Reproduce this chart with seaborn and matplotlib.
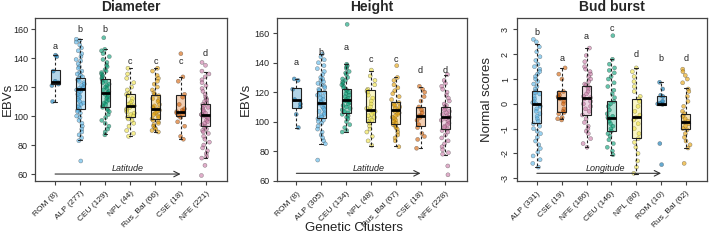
import numpy as np
import pandas as pd
import matplotlib
matplotlib.use('Agg')
import matplotlib.pyplot as plt
import seaborn as sns

sns.set_style('ticks')
plt.rcParams['font.family'] = ['Liberation Sans', 'DejaVu Sans']
np.random.seed(3)

# 1. Colours per genetic cluster
colors = {
    'ROM': '#0072B2', 'ALP': '#56B4E9', 'CEU': '#009E73', 'NPL': '#F0E442',
    'Rus_Bal': '#E69F00', 'CSE': '#D55E00', 'NFE': '#CC79A7',
}

# 2. Data: Diameter
diam_order = ['ROM', 'ALP', 'CEU', 'NPL', 'Rus_Bal', 'CSE', 'NFE']
diam_labels = ['ROM (8)', 'ALP (277)', 'CEU (129)', 'NPL (44)', 'Rus_Bal (66)', 'CSE (18)', 'NFE (221)']
diam_letters = ['a', 'b', 'b', 'c', 'c', 'c', 'd']
diam_letter_y = [148, 160, 160, 137.5, 137.5, 137.5, 143]
diam_q3 = [131.7, 126.4, 125.3, 115, 114.5, 114.5, 108]
diam_med = [123.2, 118.4, 115.6, 107.1, 104.8, 103, 100.4]
diam_q1 = [122, 105, 106.2, 99, 97.7, 100, 93.3]
diam_hi = [142, 153, 146, 133, 133, 127, 130.6]
diam_lo = [109.5, 83.2, 87.3, 86, 89.2, 84, 71]
diam_pts = {
    'ROM': [142, 141, 131, 124, 123, 122, 121, 110],
    'ALP': [153, 152, 151, 149, 147, 145, 143, 141, 139, 138, 136, 134, 133, 131, 130, 129, 128, 127,
            126, 125, 124, 123, 122, 121, 120, 119, 119, 118, 118, 117, 116, 115, 114, 113, 112, 111,
            110, 109, 108, 107, 106, 105, 104, 103, 102, 100, 99, 97, 95, 93, 91, 89, 87, 85, 83, 69],
    'CEU': [154, 146, 145, 143, 141, 139, 137, 135, 134, 132, 131, 130, 129, 128, 127, 126, 125, 124,
            123, 122, 121, 120, 119, 118, 117, 116, 116, 115, 114, 113, 112, 111, 110, 109, 108, 107,
            106, 105, 104, 103, 101, 99, 97, 95, 93, 91, 89, 87],
    'NPL': [133, 129, 126, 123, 120, 118, 116, 115, 114, 112, 110, 109, 108, 107, 107, 106, 105, 104,
            103, 102, 101, 100, 99, 98, 97, 95, 93, 90, 88, 86],
    'Rus_Bal': [133, 131, 128, 126, 124, 122, 120, 118, 116, 115, 114, 112, 111, 110, 108, 107, 106, 105,
                105, 104, 103, 102, 101, 100, 99, 98, 97, 96, 95, 94, 93, 92, 91, 90, 89],
    'CSE': [143, 127, 124, 115, 113, 108, 105, 104, 103, 103, 102, 101, 100, 99, 96, 93, 86, 84],
    'NFE': [137, 135, 131, 129, 127, 125, 123, 121, 119, 117, 115, 113, 112, 111, 110, 109, 108, 107,
            106, 105, 104, 103, 102, 101, 101, 100, 100, 99, 98, 97, 96, 95, 94, 93, 92, 91, 90, 89,
            88, 86, 84, 82, 80, 78, 76, 74, 72, 71, 66, 59],
}

# 3. Data: Height
height_order = ['ROM', 'ALP', 'CEU', 'NPL', 'Rus_Bal', 'CSE', 'NFE']
height_labels = ['ROM (8)', 'ALP (305)', 'CEU (134)', 'NPL (48)', 'Rus_Bal (67)', 'CSE (18)', 'NFE (228)']
height_letters = ['a', 'b', 'a', 'c', 'c', 'd', 'd']
height_letter_y = [140, 147, 150, 142, 142, 135, 135]
height_q3 = [122.7, 120.9, 122, 121.6, 113.3, 110, 110.3]
height_med = [114.8, 113, 114.4, 107.6, 107.6, 104.2, 102.9]
height_q1 = [109.6, 102.5, 105.9, 99.5, 98.4, 96.8, 95]
height_hi = [129.2, 146, 139, 134.4, 130, 123.8, 132]
height_lo = [95.7, 85.1, 93, 83.8, 83.3, 82.2, 77.7]
height_pts = {
    'ROM': [129, 128, 122, 115, 112, 110, 105, 96],
    'ALP': [146, 144, 142, 140, 138, 136, 134, 132, 130, 129, 128, 127, 126, 125, 124, 123, 122, 121,
            120, 119, 118, 117, 116, 115, 114, 113, 113, 112, 111, 110, 109, 108, 107, 106, 105, 104,
            103, 102, 101, 100, 99, 97, 95, 93, 91, 89, 87, 85, 74],
    'CEU': [166, 139, 138, 137, 136, 134, 133, 132, 130, 129, 128, 127, 126, 125, 124, 123, 122, 121,
            120, 119, 118, 117, 116, 115, 114, 114, 113, 112, 111, 110, 109, 108, 107, 106, 105, 104,
            103, 102, 100, 98, 96, 94, 93],
    'NPL': [135, 131, 128, 125, 122, 121, 120, 118, 116, 114, 112, 110, 109, 108, 107, 106, 105, 104,
            103, 102, 101, 100, 99, 97, 95, 93, 90, 87, 84],
    'Rus_Bal': [138, 130, 128, 125, 123, 121, 119, 117, 115, 113, 112, 111, 110, 109, 108, 107, 106, 105,
                104, 103, 102, 101, 100, 99, 98, 97, 96, 95, 93, 91, 89, 87, 83],
    'CSE': [124, 122, 120, 117, 114, 110, 108, 106, 104, 104, 103, 101, 98, 96, 92, 90, 88, 82],
    'NFE': [132, 128, 126, 124, 122, 120, 118, 116, 114, 112, 111, 110, 109, 108, 107, 106, 105, 104,
            103, 103, 102, 101, 100, 99, 98, 97, 96, 95, 94, 93, 91, 89, 87, 85, 83, 81, 79, 78, 70, 64],
}

# 4. Data: Bud burst
bud_order = ['ALP', 'CSE', 'NFE', 'CEU', 'NPL', 'ROM', 'Rus_Bal']
bud_labels = ['ALP (331)', 'CSE (19)', 'NFE (186)', 'CEU (146)', 'NPL (80)', 'ROM (10)', 'Rus_Bal (62)']
bud_letters = ['b', 'a', 'a', 'c', 'd', 'b', 'd']
bud_letter_y = [2.88, 1.81, 2.72, 3.05, 2.0, 1.81, 1.81]
bud_q3 = [0.5, 0.51, 0.71, 0.11, 0.21, 0.31, -0.4]
bud_med = [0.0, 0.25, 0.25, -0.56, -0.54, 0.0, -0.74]
bud_q1 = [-0.79, -0.32, -0.46, -1.1, -1.39, -0.04, -1.03]
bud_hi = [2.42, 1.45, 2.25, 1.81, 1.45, 0.87, 0.64]
bud_lo = [-2.55, -0.63, -1.74, -2.07, -2.84, -0.04, -1.77]
bud_pts = {
    'ALP': [2.6, 2.5, 2.3, 2.1, 1.9, 1.75, 1.6, 1.5, 1.4, 1.3, 1.2, 1.1, 1.0, 0.9, 0.8, 0.7, 0.6, 0.5,
            0.45, 0.4, 0.3, 0.2, 0.1, 0.05, 0.0, -0.05, -0.1, -0.2, -0.3, -0.4, -0.5, -0.6, -0.7, -0.8,
            -0.9, -1.0, -1.1, -1.2, -1.35, -1.5, -1.65, -1.8, -1.95, -2.1, -2.25, -2.4, -2.55],
    'CSE': [1.45, 1.2, 1.0, 0.5, 0.45, 0.35, 0.3, 0.25, 0.25, 0.2, 0.1, 0.0, -0.2, -0.3, -0.35, -0.4,
            -0.55, -0.6, -0.65],
    'NFE': [2.25, 1.95, 1.7, 1.5, 1.4, 1.3, 1.2, 1.1, 1.0, 0.9, 0.8, 0.75, 0.7, 0.6, 0.5, 0.4, 0.3, 0.25,
            0.2, 0.1, 0.0, -0.1, -0.2, -0.3, -0.45, -0.6, -0.75, -0.9, -1.0, -1.1, -1.2, -1.4, -1.6, -1.75],
    'CEU': [2.75, 1.8, 1.6, 1.45, 1.35, 1.25, 1.1, 1.0, 0.85, 0.7, 0.55, 0.4, 0.25, 0.1, 0.0, -0.1, -0.25,
            -0.4, -0.5, -0.55, -0.6, -0.7, -0.8, -0.9, -1.0, -1.1, -1.2, -1.3, -1.45, -1.6, -1.75, -1.9, -2.05],
    'NPL': [1.45, 1.3, 1.1, 0.9, 0.7, 0.5, 0.3, 0.2, 0.1, -0.1, -0.3, -0.45, -0.55, -0.65, -0.8, -1.0,
            -1.2, -1.4, -1.55, -1.75, -2.0, -2.3, -2.55, -2.8],
    'ROM': [0.87, 0.6, 0.35, 0.3, 0.1, 0.02, 0.0, -0.02, -1.6, -2.45],
    'Rus_Bal': [1.4, 1.3, 1.15, 1.0, 0.85, 0.6, 0.5, 0.3, 0.1, -0.1, -0.3, -0.4, -0.5, -0.6, -0.7, -0.75,
                -0.8, -0.9, -1.0, -1.05, -1.2, -1.35, -1.5, -1.65, -1.78, -2.4],
}


def draw_panel(ax, order, labels, pts, q1, med, q3, lo, hi, letters, letter_y):
    df = pd.DataFrame([(k, v) for k in order for v in pts[k]], columns=['cluster', 'value'])
    sns.stripplot(data=df, x='cluster', y='value', order=order, hue='cluster', hue_order=order,
                  palette=colors, jitter=0.17, size=2.9, alpha=0.6, linewidth=0.3,
                  edgecolor='auto', legend=False, ax=ax, zorder=2)
    stats = [dict(med=med[i], q1=q1[i], q3=q3[i], whislo=lo[i], whishi=hi[i]) for i in range(len(order))]
    bp = ax.bxp(stats, positions=range(len(order)), widths=0.36, capwidths=0.14, showfliers=False,
                patch_artist=True, manage_ticks=False,
                boxprops=dict(edgecolor='#222222', linewidth=0.8),
                whiskerprops=dict(color='#222222', linewidth=0.8, linestyle=(0, (2.5, 2))),
                capprops=dict(color='#222222', linewidth=0.8),
                medianprops=dict(color='black', linewidth=2.0))
    for patch, k in zip(bp['boxes'], order):
        patch.set_facecolor(matplotlib.colors.to_rgba(colors[k], 0.3))
        patch.set_zorder(3)
    for key in ['whiskers', 'caps', 'medians']:
        for ln in bp[key]:
            ln.set_zorder(4)
    for i, t in enumerate(letters):
        ax.text(i, letter_y[i], t, ha='center', va='center', fontsize=6.5, color='#222222')
    ax.set_xticks(range(len(order)))
    ax.set_xticklabels(labels, rotation=45, ha='right', rotation_mode='anchor', fontsize=6)
    ax.set_xlim(-0.8, 6.85)
    ax.set_xlabel('')
    for s in ax.spines.values():
        s.set_visible(True)
        s.set_color('#444444')
        s.set_linewidth(0.9)
    ax.tick_params(direction='out', length=3, width=0.8, colors='#444444', labelcolor='#222222')
    ax.tick_params(axis='y', labelsize=6.5, pad=2)


fig = plt.figure(figsize=(7.09, 2.41), dpi=100)
bot, h = 1 - 181 / 241, 162.7 / 241
ax1 = fig.add_axes([35 / 709, bot, 192 / 709, h])
ax2 = fig.add_axes([276.5 / 709, bot, 190 / 709, h])
ax3 = fig.add_axes([517 / 709, bot, 190 / 709, h])

# Diameter
draw_panel(ax1, diam_order, diam_labels, diam_pts, diam_q1, diam_med, diam_q3, diam_lo, diam_hi,
           diam_letters, diam_letter_y)
ax1.set_ylim(55.2, 167.4)
ax1.set_yticks([60, 80, 100, 120, 140, 160])
ax1.set_ylabel('EBVs', fontsize=9.5)
ax1.yaxis.set_label_coords(-0.11, 0.5)
ax1.set_title('Diameter', fontsize=10, fontweight='bold', pad=5)
ax1.annotate('', xy=(5, 60), xytext=(0, 60),
             arrowprops=dict(arrowstyle='->', lw=0.8, color='#333333', shrinkA=0, shrinkB=0))
ax1.text(2.9, 63.5, 'Latitude', ha='center', va='center', fontsize=6.5, style='italic', color='#222222')

# Height
draw_panel(ax2, height_order, height_labels, height_pts, height_q1, height_med, height_q3, height_lo,
           height_hi, height_letters, height_letter_y)
ax2.set_ylim(59.8, 170.1)
ax2.set_yticks([60, 80, 100, 120, 140, 160])
ax2.set_ylabel('EBVs', fontsize=9.5)
ax2.yaxis.set_label_coords(-0.13, 0.5)
ax2.set_title('Height', fontsize=10, fontweight='bold', pad=5)
ax2.annotate('', xy=(5, 65), xytext=(0, 65),
             arrowprops=dict(arrowstyle='->', lw=0.8, color='#333333', shrinkA=0, shrinkB=0))
ax2.text(2.9, 68.5, 'Latitude', ha='center', va='center', fontsize=6.5, style='italic', color='#222222')

# Bud burst
draw_panel(ax3, bud_order, bud_labels, bud_pts, bud_q1, bud_med, bud_q3, bud_lo, bud_hi,
           bud_letters, bud_letter_y)
ax3.set_ylim(-3.11, 3.45)
ax3.set_yticks([-3, -2, -1, 0, 1, 2, 3])
ax3.set_yticklabels(['-3', '-2', '-1', '0', '1', '2', '3'], rotation=90, va='center')
ax3.set_ylabel('Normal scores', fontsize=9.5)
ax3.yaxis.set_label_coords(-0.125, 0.5)
ax3.set_title('Bud burst', fontsize=10, fontweight='bold', pad=5)
ax3.annotate('', xy=(5, -2.8), xytext=(0, -2.8),
             arrowprops=dict(arrowstyle='->', lw=0.8, color='#333333', shrinkA=0, shrinkB=0))
ax3.text(2.75, -2.6, 'Longitude', ha='center', va='center', fontsize=6.5, style='italic', color='#222222')

fig.text(354 / 709, 1 - 228 / 241, 'Genetic Clusters', ha='center', va='center', fontsize=9.5, color='#222222')

plt.savefig('out.png', dpi=100)
